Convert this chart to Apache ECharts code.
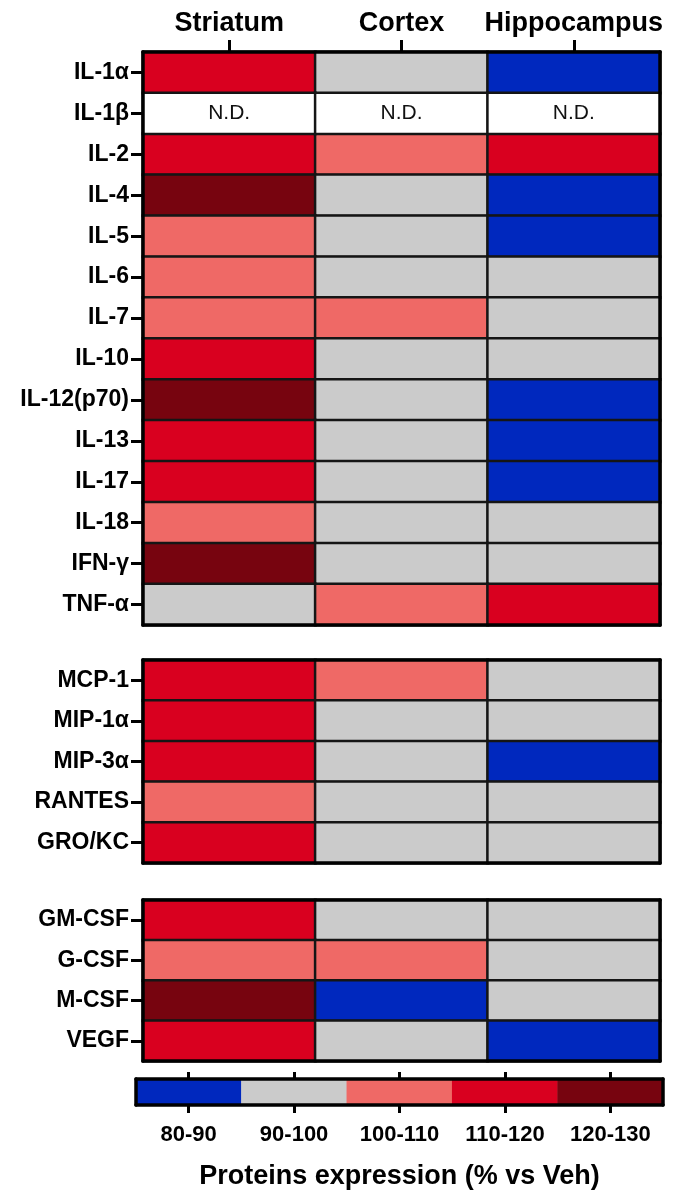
<!DOCTYPE html>
<html>
<head>
<meta charset="utf-8">
<script src="https://cdn.jsdelivr.net/npm/echarts@6/dist/echarts.min.js"></script>
<style>
html,body{margin:0;padding:0;background:#fff;}
#chart{width:679px;height:1191px;}
</style>
</head>
<body>
<div id="chart"></div>
<script>
// ---- data ----
const regions = ['Striatum', 'Cortex', 'Hippocampus'];

// representative % vs Veh value for each bin (85 = 80-90, 95 = 90-100, ...); null = N.D.
const cytokines = ['IL-1α','IL-1β','IL-2','IL-4','IL-5','IL-6','IL-7','IL-10','IL-12(p70)','IL-13','IL-17','IL-18','IFN-γ','TNF-α'];
const cytokineValues = [
  [115, 95, 85],
  [null, null, null],
  [115, 105, 115],
  [125, 95, 85],
  [105, 95, 85],
  [105, 95, 95],
  [105, 105, 95],
  [115, 95, 95],
  [125, 95, 85],
  [115, 95, 85],
  [115, 95, 85],
  [105, 95, 95],
  [125, 95, 95],
  [95, 105, 115]
];

const chemokines = ['MCP-1','MIP-1α','MIP-3α','RANTES','GRO/KC'];
const chemokineValues = [
  [115, 105, 95],
  [115, 95, 95],
  [115, 95, 85],
  [105, 95, 95],
  [115, 95, 95]
];

const growthFactors = ['GM-CSF','G-CSF','M-CSF','VEGF'];
const growthValues = [
  [115, 95, 95],
  [105, 105, 95],
  [125, 85, 95],
  [115, 95, 85]
];

const legendLabels = ['80-90','90-100','100-110','110-120','120-130'];
const legendValues = [85, 95, 105, 115, 125];
const binColors = ['#0028BE', '#CBCBCB', '#EF6966', '#D9001F', '#77040F'];

// ---- build ----
function cells(values, nd) {
  const out = [];
  values.forEach((row, i) => row.forEach((v, j) => {
    if ((v === null) === nd) out.push([j, i, nd ? 0 : v]);
  }));
  return out;
}

const FONT = "'Liberation Sans', Arial, Helvetica, sans-serif";
const frame = { show: true, lineStyle: { color: '#000', width: 3.5 } };
const noTick = { show: false };
const noLabel = { show: false };

const grids = [
  { left: 143, right: 19, top: 52, height: 573 },
  { left: 143, right: 19, top: 660, height: 203 },
  { left: 143, right: 19, top: 900, height: 161 },
  { left: 136, right: 16, top: 1079, height: 27 }
];

const panelRows = [cytokines, chemokines, growthFactors];
const panelVals = [cytokineValues, chemokineValues, growthValues];

const xAxis = [], yAxis = [], series = [];
const colored = [];

for (let p = 0; p < 3; p++) {
  // bottom x
  xAxis.push({ type: 'category', gridIndex: p, data: regions, position: 'bottom', z: 5,
    axisLine: frame, axisTick: noTick, axisLabel: noLabel });
  // top x
  xAxis.push({ type: 'category', gridIndex: p, data: regions, position: 'top', z: 5,
    axisLine: frame,
    axisTick: p === 0 ? { show: true, alignWithLabel: true, interval: 0, length: 12, lineStyle: { color: '#000', width: 3 } } : noTick,
    axisLabel: p === 0 ? { show: true, interval: 0, hideOverlap: false, fontSize: 27, fontWeight: 'bold', color: '#000', margin: 15, fontFamily: FONT } : noLabel });
  // left y
  yAxis.push({ type: 'category', gridIndex: p, data: panelRows[p], inverse: true, position: 'left', z: 5,
    axisLine: frame,
    axisTick: { show: true, alignWithLabel: true, interval: 0, length: 12, lineStyle: { color: '#000', width: 3 } },
    axisLabel: { interval: 0, fontSize: 23, fontWeight: 'bold', color: '#000', margin: 14, fontFamily: FONT } });
  // right y
  yAxis.push({ type: 'category', gridIndex: p, data: panelRows[p], inverse: true, position: 'right', z: 5,
    axisLine: frame, axisTick: noTick, axisLabel: noLabel });

  colored.push(series.length);
  series.push({
    type: 'heatmap', xAxisIndex: p * 2, yAxisIndex: p * 2,
    data: cells(panelVals[p], false),
    itemStyle: { borderColor: '#151515', borderWidth: 2.5 },
    emphasis: { disabled: true }
  });
  const nd = cells(panelVals[p], true);
  if (nd.length) {
    series.push({
      type: 'heatmap', xAxisIndex: p * 2, yAxisIndex: p * 2,
      data: nd,
      itemStyle: { color: '#ffffff', borderColor: '#151515', borderWidth: 2.5 },
      label: { show: true, formatter: 'N.D.', fontSize: 21, color: '#111', fontFamily: FONT },
      emphasis: { disabled: true }
    });
  }
}

// legend bar
xAxis.push({ type: 'category', gridIndex: 3, data: legendLabels, position: 'bottom', z: 5,
  axisLine: frame,
  axisTick: { show: true, alignWithLabel: true, interval: 0, length: 8, lineStyle: { color: '#000', width: 3 } },
  axisLabel: { interval: 0, fontSize: 22, fontWeight: 'bold', color: '#000', margin: 19, fontFamily: FONT },
  name: 'Proteins expression (% vs Veh)', nameLocation: 'middle', nameGap: 58,
  nameTextStyle: { fontSize: 27, fontWeight: 'bold', color: '#000', fontFamily: FONT } });
xAxis.push({ type: 'category', gridIndex: 3, data: legendLabels, position: 'top', z: 5,
  axisLine: frame,
  axisTick: { show: true, alignWithLabel: true, interval: 0, length: 7, lineStyle: { color: '#000', width: 3 } },
  axisLabel: noLabel });
yAxis.push({ type: 'category', gridIndex: 3, data: [''], position: 'left', z: 5,
  axisLine: frame, axisTick: noTick, axisLabel: noLabel });
yAxis.push({ type: 'category', gridIndex: 3, data: [''], position: 'right', z: 5,
  axisLine: frame, axisTick: noTick, axisLabel: noLabel });
colored.push(series.length);
series.push({
  type: 'heatmap', xAxisIndex: 6, yAxisIndex: 6,
  data: legendValues.map((v, i) => [i, 0, v]),
  itemStyle: { borderWidth: 0 },
  emphasis: { disabled: true }
});

const chart = echarts.init(document.getElementById('chart'));
chart.setOption({
  animation: false,
  backgroundColor: '#fff',
  textStyle: { fontFamily: FONT },
  grid: grids,
  xAxis: xAxis,
  yAxis: yAxis,
  visualMap: {
    type: 'piecewise', show: false, seriesIndex: colored, dimension: 2,
    pieces: [
      { gte: 80, lt: 90, color: binColors[0] },
      { gte: 90, lt: 100, color: binColors[1] },
      { gte: 100, lt: 110, color: binColors[2] },
      { gte: 110, lt: 120, color: binColors[3] },
      { gte: 120, lte: 130, color: binColors[4] }
    ]
  },
  series: series
});
</script>
</body>
</html>
